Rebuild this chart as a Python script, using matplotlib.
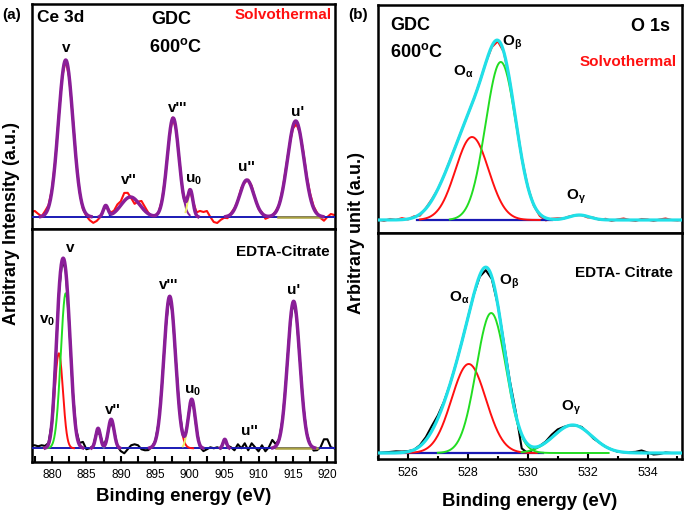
import numpy as np
import matplotlib
matplotlib.use("Agg")
import matplotlib.pyplot as plt
from matplotlib.ticker import MultipleLocator

plt.rcParams['font.family'] = ['Liberation Sans', 'DejaVu Sans']
plt.rcParams['mathtext.default'] = 'regular'

PURPLE = '#8a1e98'
RED = '#ff1010'
GREEN = '#22dd22'
CYAN = '#20e0e8'
BLUE = '#1a1ab4'
YELLOW = '#eeee66'
OLIVE = '#a8a040'

# ---- Ce 3d, solvothermal: fitted peaks (centre eV, height, FWHM eV) and where each is drawn
ce_sol_pos = [882.0, 887.8, 891.4, 897.6, 900.1, 908.3, 915.4]
ce_sol_amp = [157, 11, 20, 99, 26, 37, 96]
ce_sol_fwhm = [2.5, 0.8, 3.2, 2.0, 0.9, 2.4, 2.8]
ce_sol_lo = [879.0, 887.2, 888.4, 895.0, 899.4, 905.5, 912.5]
ce_sol_hi = [885.0, 888.4, 894.6, 900.0, 901.0, 911.0, 918.5]
ce_sol_col = [PURPLE, CYAN, BLUE, PURPLE, YELLOW, PURPLE, PURPLE]
# measured minus fit, every 0.5 eV from 877.0 eV
ce_sol_resid = [5, 6, 3, 0, 3, 2, 1, 0, 1, 0,
                0, -1, 1, 0, -1, -2, -2, -4, -6, -4,
                -1, 0, 0, 1, 2, 5, 4, 8, 5, -1,
                -5, 1, 6, 4, 1, -1, 0, 0, 1, 0,
                -1, 1, 0, 1, -2, 0, 1, 0, 3, 6,
                5, 6, 0, -5, -6, -3, -1, -2, 1, 1,
                0, 2, -1, 1, 2, 0, -1, 1, -3, -1,
                0, 1, 0, 1, 2, 0, -2, -3, 0, 3,
                2, 3, 2, 1, -2, -4, 0, 3, 2]
ce_sol_olive = [912.8, 919.0]

# ---- Ce 3d, EDTA-citrate
ce_edta_pos = [881.0, 882.0, 886.7, 888.6, 897.1, 900.3, 905.1, 915.1]
ce_edta_amp = [95, 155, 20, 29, 152, 49, 9, 147]
ce_edta_fwhm = [1.4, 1.7, 0.8, 1.0, 2.0, 1.2, 0.6, 2.1]
ce_edta_lo = [878.9, 879.0, 885.8, 887.5, 894.5, 899.0, 904.5, 912.5]
ce_edta_hi = [883.2, 884.4, 887.6, 889.6, 900.5, 901.6, 905.7, 918.0]
ce_edta_col = [RED, GREEN, PURPLE, CYAN, RED, YELLOW, PURPLE, PURPLE]
ce_edta_resid = [3, 3, 2, 3, 2, 1, 0, 0, 0, 0,
                 0, 0, 0, 1, 2, 6, -1, 0, 0, 0,
                 0, 0, 0, 0, 0, -1, -3, -5, -1, 3,
                 4, 3, -1, -2, -2, 0, 0, 0, 0, 0,
                 0, 0, 0, 0, 0, -1, 0, 0, 0, -2,
                 -3, -1, 1, 0, 1, -1, 0, 0, 1, -2,
                 4, 0, 5, -2, 5, 1, -3, 3, -3, 1,
                 8, 2, 0, 0, 0, 0, 0, 0, 0, 0,
                 0, 0, -3, -2, 1, 9, 9, 1, 0]
ce_edta_olive = [912.5, 918.5]

# ---- O 1s, solvothermal (O_alpha, O_beta, O_gamma, hidden shoulder inside the envelope)
o_sol_pos = [528.14, 529.10, 531.72, 527.3]
o_sol_amp = [83, 158, 5, 25]
o_sol_fwhm = [1.3, 1.2, 0.8, 1.2]
o_sol_lo = [526.4, 527.4, 531.0, 525.5]
o_sol_hi = [530.4, 530.6, 532.4, 529.5]
o_sol_col = [RED, GREEN, GREEN, None]
# measured minus fit, every 0.2 eV from 525.0 eV
o_sol_resid = [0.5, -1, 1, 0, 1.5, -0.5, 1, -1.5, 0.5, 1,
               0, 0, 0.5, 0, 0, 0, 0, 0, 0, -1,
               -1, 0, 0, 0, 0, 0, -1, -2, -2.5, 0.5,
               1, 0, 0.5, 0, 0, -1, 0.5, -0.5, 1, -1,
               0.5, 1.5, 0, -1, 1, 0.5, -1, 0.5, 1.5, 0,
               -0.5, 0.5]
o_sol_base = [526.3, 530.8]

# ---- O 1s, EDTA-citrate
o_edta_pos = [528.03, 528.78, 531.5, 527.2]
o_edta_amp = [89, 140, 28, 18]
o_edta_fwhm = [1.35, 1.17, 1.5, 1.2]
o_edta_lo = [525.5, 527.0, 529.8, 525.0]
o_edta_hi = [530.3, 532.7, 533.0, 529.0]
o_edta_col = [RED, GREEN, GREEN, None]
o_edta_resid = [0, 0.5, 1, 1.5, 1, 0.5, 0, 1, 3, 5,
                3, 1, 0, 0, 0, 0, 0, -1.5, -3, -2,
                0, 2, 3, 3, -14, -9, -2, 0, 1, 3,
                3, 1, 0, 0, 1, 0, -1, 0, 0, 0,
                -0.5, 0, 0.5, 1, 2.5, 0.5, -1.5, -1, 0.5, 0,
                0, 0]
o_edta_base = [525.1, 530.5]


def gauss(x, c, a, w):
    return a * np.exp(-4 * np.log(2) * ((x - c) / w) ** 2)


def fit_sum(x, pos, amp, fwhm):
    y = np.zeros_like(x)
    for c, a, w in zip(pos, amp, fwhm):
        y = y + gauss(x, c, a, w)
    return y


def draw_parts(ax, pos, amp, fwhm, lo, hi, cols):
    for c, a, w, l, h, col in zip(pos, amp, fwhm, lo, hi, cols):
        if col is None:
            continue
        xs = np.linspace(l, h, 200)
        ax.plot(xs, gauss(xs, c, a, w), color=col, lw=1.4, zorder=4)


def draw_ce(ax, pos, amp, fwhm, lo, hi, cols, resid, raw_col, olive):
    xr = 877.0 + 0.5 * np.arange(len(resid))
    ax.plot(xr, fit_sum(xr, pos, amp, fwhm) + np.array(resid), color=raw_col, lw=1.5, zorder=2)
    ax.axhline(0, color=BLUE, lw=1.4, zorder=3)
    ax.plot(olive, [0, 0], color=OLIVE, lw=1.8, zorder=3.5)
    draw_parts(ax, pos, amp, fwhm, lo, hi, cols)
    xf = np.linspace(876.5, 922, 1500)
    env = fit_sum(xf, pos, amp, fwhm)
    env = np.where(env > 0.4, env, np.nan)
    ax.plot(xf, env, color=PURPLE, lw=2.5, zorder=5)
    ax.set_xlim(877.1, 921.1)


def draw_o(ax, pos, amp, fwhm, lo, hi, cols, resid, raw_col, base):
    xr = 525.0 + 0.2 * np.arange(len(resid))
    ax.plot(xr, fit_sum(xr, pos, amp, fwhm) + np.array(resid), color=raw_col, lw=1.5, zorder=2)
    ax.plot(base, [0, 0], color=BLUE, lw=1.6, zorder=3)
    draw_parts(ax, pos, amp, fwhm, lo, hi, cols)
    xf = np.linspace(524.8, 535.4, 1000)
    ax.plot(xf, fit_sum(xf, pos, amp, fwhm), color=CYAN, lw=2.3, zorder=5)
    ax.set_xlim(525.0, 535.15)


def style(ax, show_x):
    for s in ax.spines.values():
        s.set_linewidth(1.8)
    ax.set_yticks([])
    if not show_x:
        ax.set_xticks([])
        ax.tick_params(axis='x', which='both', bottom=False, labelbottom=False)


fig = plt.figure(figsize=(6.85, 5.14), dpi=100)

ax1 = fig.add_axes([0.0467, 0.5545, 0.4423, 0.4377])
ax2 = fig.add_axes([0.0467, 0.1012, 0.4423, 0.4533])
ax3 = fig.add_axes([0.5518, 0.5467, 0.4438, 0.4436])
ax4 = fig.add_axes([0.5518, 0.1070, 0.4438, 0.4397])

draw_ce(ax1, ce_sol_pos, ce_sol_amp, ce_sol_fwhm, ce_sol_lo, ce_sol_hi, ce_sol_col,
        ce_sol_resid, RED, ce_sol_olive)
ax1.set_ylim(-12, 213)
draw_ce(ax2, ce_edta_pos, ce_edta_amp, ce_edta_fwhm, ce_edta_lo, ce_edta_hi, ce_edta_col,
        ce_edta_resid, 'black', ce_edta_olive)
ax2.set_ylim(-13.7, 219.3)
draw_o(ax3, o_sol_pos, o_sol_amp, o_sol_fwhm, o_sol_lo, o_sol_hi, o_sol_col,
       o_sol_resid, RED, o_sol_base)
ax3.set_ylim(-13, 215)
draw_o(ax4, o_edta_pos, o_edta_amp, o_edta_fwhm, o_edta_lo, o_edta_hi, o_edta_col,
       o_edta_resid, 'black', o_edta_base)
ax4.set_ylim(-6, 220)

style(ax1, False)
style(ax3, False)
style(ax2, True)
style(ax4, True)

ax2.xaxis.set_major_locator(MultipleLocator(5))
ax2.xaxis.set_minor_locator(MultipleLocator(2.5))
ax2.tick_params(axis='x', which='both', direction='in', length=4, width=1.5, labelsize=8.5, pad=5)
ax4.xaxis.set_major_locator(MultipleLocator(2))
ax4.xaxis.set_minor_locator(MultipleLocator(1))
ax4.tick_params(axis='x', which='major', direction='in', length=5, width=1.5, labelsize=9, pad=6)
ax4.tick_params(axis='x', which='minor', direction='in', length=2.5, width=1.5)

ax2.set_xlabel('Binding energy (eV)', fontsize=13.4, fontweight='bold', labelpad=5)
ax4.set_xlabel('Binding energy (eV)', fontsize=13.4, fontweight='bold', labelpad=10)

fig.text(0.0175, 0.565, 'Arbitrary Intensity (a.u.)', rotation=90, ha='center', va='center',
         fontsize=13, fontweight='bold')
fig.text(0.521, 0.547, 'Arbitrary unit (a.u.)', rotation=90, ha='center', va='center',
         fontsize=13, fontweight='bold')
fig.text(0.003, 0.971, '(a)', ha='left', va='center', fontsize=11, fontweight='bold')
fig.text(0.508, 0.971, '(b)', ha='left', va='center', fontsize=11, fontweight='bold')

# panel texts
bold = dict(fontweight='bold')
ax1.text(0.017, 0.938, 'Ce 3d', transform=ax1.transAxes, ha='left', va='center', fontsize=12.5, **bold)
ax1.text(0.459, 0.929, 'GDC', transform=ax1.transAxes, ha='center', va='center', fontsize=13, **bold)
ax1.text(0.472, 0.809, '600$^{o}$C', transform=ax1.transAxes, ha='center', va='center', fontsize=13, **bold)
ax1.text(0.99, 0.951, 'Solvothermal', transform=ax1.transAxes, ha='right', va='center',
         fontsize=11, color=RED, **bold)
ax2.text(0.983, 0.903, 'EDTA-Citrate', transform=ax2.transAxes, ha='right', va='center', fontsize=11, **bold)

ax3.text(0.039, 0.912, 'GDC', transform=ax3.transAxes, ha='left', va='center', fontsize=13, **bold)
ax3.text(0.039, 0.794, '600$^{o}$C', transform=ax3.transAxes, ha='left', va='center', fontsize=13, **bold)
ax3.text(0.96, 0.904, 'O 1s', transform=ax3.transAxes, ha='right', va='center', fontsize=13, **bold)
ax3.text(0.984, 0.75, 'Solvothermal', transform=ax3.transAxes, ha='right', va='center',
         fontsize=11, color=RED, **bold)
ax4.text(0.970, 0.823, 'EDTA- Citrate', transform=ax4.transAxes, ha='right', va='center', fontsize=11, **bold)

# peak labels
ce_sol_lab = ['v', "v''", "v'''", 'u$_0$', "u''", "u'"]
ce_sol_lab_x = [882.0, 891.1, 898.2, 900.6, 908.3, 915.6]
ce_sol_lab_y = [169, 37, 109, 37, 50, 105]
ce_edta_lab = ['v', 'v$_0$', "v'''", "v''", 'u$_0$', "u''", "u'"]
ce_edta_lab_x = [882.7, 879.3, 896.9, 888.9, 900.4, 908.6, 915.1]
ce_edta_lab_y = [200, 127, 163, 38, 57, 17, 158]
o_sol_lab = [r'O$_{\alpha}$', r'O$_{\beta}$', r'O$_{\gamma}$']
o_sol_lab_x = [527.86, 529.47, 531.62]
o_sol_lab_y = [148, 177, 23]
o_edta_lab_x = [527.70, 529.37, 531.44]
o_edta_lab_y = [155, 171, 45]

for t, x, y in zip(ce_sol_lab, ce_sol_lab_x, ce_sol_lab_y):
    ax1.text(x, y, t, ha='center', va='center', fontsize=11, **bold)
for t, x, y in zip(ce_edta_lab, ce_edta_lab_x, ce_edta_lab_y):
    ax2.text(x, y, t, ha='center', va='center', fontsize=11, **bold)
for t, x, y in zip(o_sol_lab, o_sol_lab_x, o_sol_lab_y):
    ax3.text(x, y, t, ha='center', va='center', fontsize=11, **bold)
for t, x, y in zip(o_sol_lab, o_edta_lab_x, o_edta_lab_y):
    ax4.text(x, y, t, ha='center', va='center', fontsize=11, **bold)

fig.savefig('out.png', dpi=100)
